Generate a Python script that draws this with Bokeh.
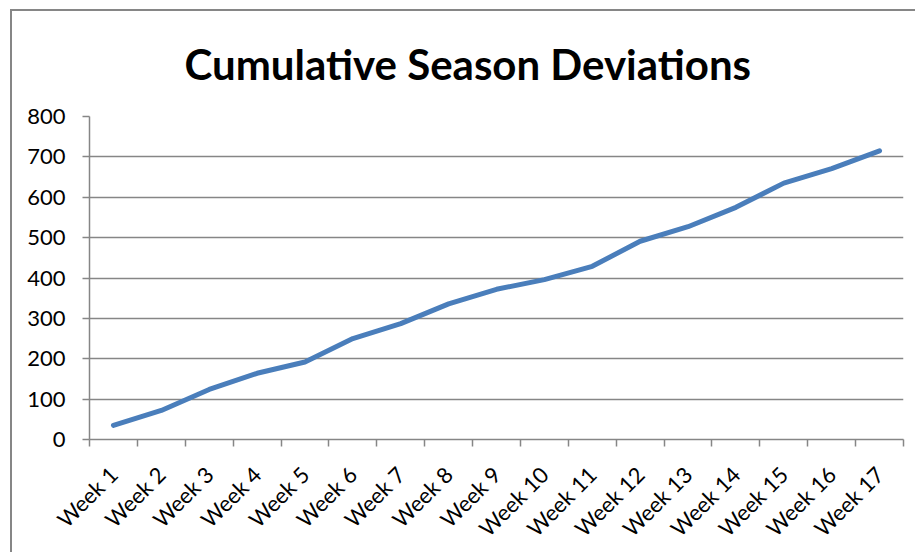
from math import pi

from bokeh.embed import file_html
from bokeh.models import FixedTicker, Range1d
from bokeh.plotting import figure
from bokeh.resources import INLINE

# Weekly running totals of deviations over the season
weeks = [f"Week {i}" for i in range(1, 18)]
deviations = [35, 72, 124, 164, 192, 250, 287, 336, 372, 396, 429, 491, 527, 575, 635, 671, 715]
y_ticks = [0, 100, 200, 300, 400, 500, 600, 700, 800]

GRID = "#868686"
LINE = "#4a7ebb"
FONT = "Lato"

xs = list(range(1, len(weeks) + 1))

p = figure(
    width=905,
    height=543,
    output_backend="svg",
    toolbar_location=None,
    x_range=Range1d(0.5, len(weeks) + 0.5),
    y_range=Range1d(0, 800),
    min_border_left=77,
    min_border_right=14,
    min_border_top=105,
    min_border_bottom=114,
    title="Cumulative Season Deviations",
)
# chart frame: only its left and top edges fall inside the page
p.margin = (9, 0, 0, 10)
p.styles = {"border-left": f"2px solid {GRID}", "border-top": f"2px solid {GRID}"}

p.outline_line_color = None
p.background_fill_color = "white"
p.border_fill_color = "white"

p.title.align = "left"
p.title.vertical_align = "top"
p.title.text_font = FONT
p.title.text_font_style = "bold"
p.title.text_font_size = "42px"
p.title.text_color = "#000000"
p.title.offset = 95
p.title.standoff = 52

# y axis
p.yaxis.ticker = FixedTicker(ticks=y_ticks)
p.yaxis.axis_line_color = GRID
p.yaxis.axis_line_width = 1.5
p.yaxis.major_tick_line_color = GRID
p.yaxis.major_tick_line_width = 1.5
p.yaxis.major_tick_out = 7
p.yaxis.major_tick_in = 0
p.yaxis.minor_tick_line_color = None
p.yaxis.major_label_text_font = FONT
p.yaxis.major_label_text_font_size = "22px"
p.yaxis.major_label_text_color = "#000000"
p.yaxis.major_label_standoff = 17

p.ygrid.ticker = FixedTicker(ticks=y_ticks)
p.ygrid.grid_line_color = GRID
p.ygrid.grid_line_width = 1.5
p.xgrid.grid_line_color = None

# x axis: labels at week centres, tick marks at the boundaries between weeks
p.xaxis.ticker = FixedTicker(ticks=xs, minor_ticks=[x + 0.5 for x in range(0, len(weeks) + 1)])
p.xaxis.major_label_overrides = {x: w for x, w in zip(xs, weeks)}
p.xaxis.major_label_orientation = pi / 4
p.xaxis.axis_line_color = GRID
p.xaxis.axis_line_width = 1.5
p.xaxis.major_tick_line_color = None
p.xaxis.major_tick_out = 7
p.xaxis.minor_tick_line_color = GRID
p.xaxis.minor_tick_line_width = 1.5
p.xaxis.minor_tick_out = 7
p.xaxis.minor_tick_in = 0
p.xaxis.major_label_text_font = FONT
p.xaxis.major_label_text_font_size = "22px"
p.xaxis.major_label_text_color = "#000000"
p.xaxis.major_label_standoff = 24

p.line(xs, deviations, line_color=LINE, line_width=5, line_cap="round", line_join="round")

open("out.html", "w").write(file_html(p, INLINE))
